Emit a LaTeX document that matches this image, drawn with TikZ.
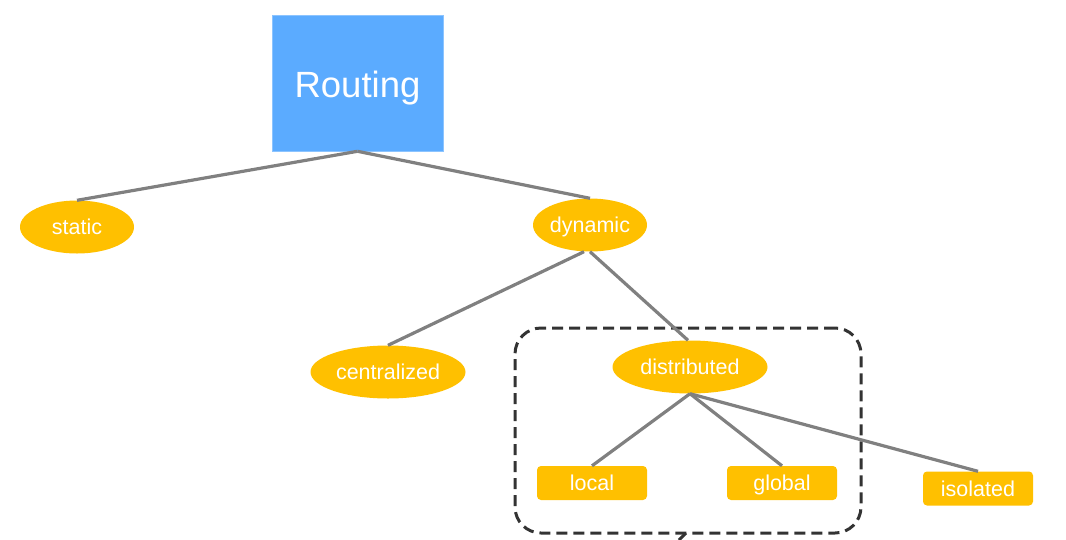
\documentclass[tikz,border=0pt]{standalone}
\usepackage{fontspec}
\setmainfont{Liberation Sans}
\usetikzlibrary{shapes.geometric}
\definecolor{routeblue}{RGB}{91,171,255}
\definecolor{gold}{RGB}{255,192,0}
\definecolor{edgegray}{RGB}{128,128,128}
\definecolor{boxgray}{RGB}{51,51,51}
\tikzset{
  rootbox/.style={fill=routeblue, draw=routeblue!70!white, line width=0.6pt, minimum width=171pt, minimum height=136pt, inner sep=0pt, text=white, text height=29pt, text depth=0pt, font=\fontsize{36.5}{40}\selectfont},
  ovalnode/.style={ellipse, fill=gold, draw=none, minimum width=114pt, minimum height=53pt, inner sep=0pt, text=white, text height=14.5pt, text depth=0pt, font=\fontsize{21.5}{24}\selectfont},
  widenode/.style={ovalnode, minimum width=155pt},
  leafbox/.style={rectangle, rounded corners=4pt, fill=gold, draw=none, minimum width=110pt, minimum height=34pt, inner sep=0pt, text=white, text height=15pt, text depth=0pt, font=\fontsize{21.5}{24}\selectfont},
  link/.style={draw=edgegray, line width=3.2pt},
  groupbox/.style={draw=boxgray, line width=3pt, dashed, dash pattern=on 11pt off 6pt, rounded corners=26pt}
}
\begin{document}
\begin{tikzpicture}[x=1pt,y=-1pt]
\path[use as bounding box] (0,0) rectangle (1066,539);
\node[groupbox, minimum width=346pt, minimum height=205pt, inner sep=0pt] (grp) at (688,430.5) {};
\node[rootbox] (routing) at (357.5,83) {Routing};
\node[ovalnode] (static) at (77,227) {static};
\node[ovalnode] (dynamic) at (590,225) {dynamic};
\node[widenode] (central) at (388,372) {centralized};
\node[widenode] (distrib) at (690,367) {distributed};
\node[leafbox] (local) at (592,483) {local};
\node[leafbox] (global) at (782,483) {global};
\node[leafbox] (isolated) at (978,488.5) {isolated};
\coordinate (exit) at (679,540);
\coordinate (gbot) at (686,533);
\draw[link] (routing.south) -- (static.north);
\draw[link] (routing.south) -- (dynamic.north);
\draw[link] ([xshift=-6pt]dynamic.south) -- (central.north);
\draw[link] (dynamic.south) -- ([xshift=-2pt]distrib.north);
\draw[link] (distrib.south) -- (local.north);
\draw[link] (distrib.south) -- (global.north);
\draw[link] (distrib.south) -- (isolated.north);
\draw[draw=boxgray, line width=3pt] (gbot) -- (exit);
\end{tikzpicture}
\end{document}
